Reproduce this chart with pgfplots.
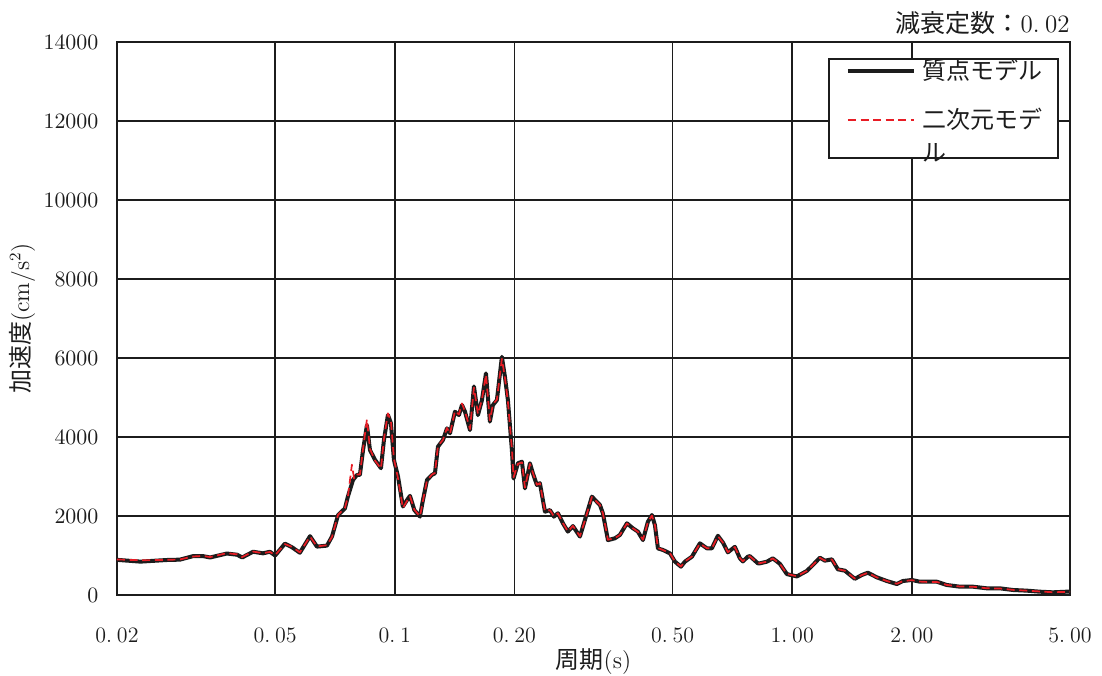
\documentclass[border=0pt]{standalone}
\usepackage{fontspec}
\usepackage{pgfplots}
\usepackage{pgfplotstable}
\pgfplotsset{compat=1.18}
\newfontfamily\jp{Noto Sans CJK JP}
\definecolor{redd}{RGB}{232,28,36}
\definecolor{blk}{RGB}{28,28,28}

\pgfplotstableread{
T a
0.0200 890
0.0229 845
0.0267 886
0.0288 895
0.0311 985
0.0329 985
0.0343 950
0.0378 1050
0.0401 1020
0.0413 950
0.0440 1095
0.0466 1055
0.0485 1095
0.0500 1000
0.0529 1300
0.0551 1210
0.0577 1070
0.0612 1490
0.0637 1225
0.0675 1250
0.0695 1480
0.0720 2025
0.0749 2190
0.0762 2490
0.0785 2910
0.0803 3040
0.0817 3040
0.0832 3670
0.0851 4300
0.0866 3670
0.0892 3420
0.0923 3210
0.0939 3920
0.0961 4560
0.0978 4350
0.0995 3420
0.1019 2995
0.1048 2240
0.1073 2400
0.1092 2510
0.1120 2150
0.1157 1985
0.1177 2400
0.1205 2910
0.1240 3040
0.1262 3080
0.1284 3755
0.1322 3925
0.1353 4220
0.1377 4095
0.1417 4640
0.1450 4555
0.1476 4810
0.1502 4640
0.1546 4175
0.1582 5280
0.1619 4555
0.1657 4935
0.1696 5610
0.1735 4390
0.1766 4810
0.1807 4935
0.1860 6030
0.1893 5525
0.1926 4935
0.1971 3670
0.1990 2950
0.2041 3335
0.2089 3375
0.2126 2700
0.2188 3335
0.2226 3080
0.2278 2785
0.2318 2830
0.2387 2110
0.2457 2150
0.2514 1985
0.2573 2070
0.2649 1815
0.2726 1605
0.2807 1745
0.2923 1480
0.3009 1900
0.3133 2490
0.3282 2280
0.3339 2070
0.3438 1390
0.3580 1435
0.3685 1520
0.3838 1815
0.3973 1690
0.4090 1605
0.4211 1390
0.4334 1855
0.4436 2025
0.4514 1770
0.4593 1180
0.4728 1140
0.4924 1055
0.5069 845
0.5248 717
0.5371 845
0.5593 970
0.5857 1308
0.6100 1182
0.6279 1182
0.6501 1500
0.6692 1330
0.6888 1080
0.7173 1220
0.7384 930
0.7513 850
0.7734 970
0.7824 985
0.8195 802
0.8291 802
0.8634 843
0.8939 928
0.9309 790
0.9694 530
1.0272 470
1.0886 610
1.1271 759
1.1738 945
1.2082 869
1.2583 903
1.3027 650
1.3566 616
1.4375 410
1.4970 506
1.5500 565
1.6329 447
1.7301 354
1.8331 278
1.8980 354
2.0000 380
2.0948 337
2.1942 337
2.3118 337
2.4496 253
2.6418 211
2.8474 211
3.0884 169
3.3302 169
3.5912 127
3.8952 110
4.1978 84
4.5270 68
4.9086 84
5.0000 84
}\mass

\pgfplotstableread{
T a
0.0200 900
0.0229 880
0.0267 890
0.0288 900
0.0311 975
0.0329 990
0.0343 960
0.0378 1060
0.0401 1030
0.0413 960
0.0440 1100
0.0466 1060
0.0485 1090
0.0500 1010
0.0529 1290
0.0551 1220
0.0577 1080
0.0612 1480
0.0637 1230
0.0675 1260
0.0695 1470
0.0720 2030
0.0749 2200
0.0762 2480
0.0780 3300
0.0790 2950
0.0803 3050
0.0817 3050
0.0832 3700
0.0851 4450
0.0866 3700
0.0892 3400
0.0923 3200
0.0939 3950
0.0961 4600
0.0978 4400
0.0995 3450
0.1019 2950
0.1048 2200
0.1073 2380
0.1092 2500
0.1120 2160
0.1157 1990
0.1177 2380
0.1205 2900
0.1240 3050
0.1262 3090
0.1284 3770
0.1322 3930
0.1353 4230
0.1377 4080
0.1417 4660
0.1450 4570
0.1476 4850
0.1502 4650
0.1546 4200
0.1582 5250
0.1619 4580
0.1657 4950
0.1696 5580
0.1735 4420
0.1766 4830
0.1807 4950
0.1860 5980
0.1893 5500
0.1926 4900
0.1971 3700
0.1990 2980
0.2041 3320
0.2089 3360
0.2126 2720
0.2188 3320
0.2226 3090
0.2278 2790
0.2318 2830
0.2387 2120
0.2457 2150
0.2514 1990
0.2573 2070
0.2649 1820
0.2726 1610
0.2807 1750
0.2923 1490
0.3009 1890
0.3133 2480
0.3282 2280
0.3339 2070
0.3438 1400
0.3580 1440
0.3685 1520
0.3838 1810
0.3973 1690
0.4090 1600
0.4211 1400
0.4334 1850
0.4436 2010
0.4514 1770
0.4593 1190
0.4728 1140
0.4924 1060
0.5069 850
0.5248 720
0.5371 850
0.5593 975
0.5857 1300
0.6100 1185
0.6279 1180
0.6501 1490
0.6692 1330
0.6888 1085
0.7173 1215
0.7384 935
0.7513 855
0.7734 970
0.7824 980
0.8195 805
0.8291 805
0.8634 845
0.8939 925
0.9309 790
0.9694 535
1.0272 475
1.0886 610
1.1271 760
1.1738 940
1.2082 870
1.2583 900
1.3027 655
1.3566 615
1.4375 415
1.4970 505
1.5500 560
1.6329 445
1.7301 355
1.8331 285
1.8980 350
2.0000 375
2.0948 340
2.1942 330
2.3118 330
2.4496 255
2.6418 215
2.8474 210
3.0884 170
3.3302 165
3.5912 130
3.8952 110
4.1978 90
4.5270 70
4.9086 80
5.0000 85
}\twod

\begin{document}
\begin{tikzpicture}
\begin{axis}[
  at={(0,0)}, anchor=south west,
  scale only axis, width=476.5pt, height=276.5pt,
  xmode=log, xmin=0.02, xmax=5, ymin=0, ymax=14000,
  xtick={0.02,0.05,0.1,0.2,0.5,1,2,5},
  xticklabels={0.\hspace{0.22em}02,0.\hspace{0.22em}05,0.\hspace{0.22em}1,0.\hspace{0.22em}20,0.\hspace{0.22em}50,1.\hspace{0.22em}00,2.\hspace{0.22em}00,5.\hspace{0.22em}00},
  minor xtick={},
  ytick={0,2000,4000,6000,8000,10000,12000,14000},
  scaled y ticks=false,
  yticklabel style={/pgf/number format/1000 sep={}, xshift=-5.8pt},
  xticklabel style={yshift=-12.7pt},
  ticklabel style={font=\fontsize{11}{13}\selectfont, text=blk},
  major tick length=0pt, minor tick length=0pt,
  grid=major,
  major grid style={line width=0.9pt, draw=blk},
  axis line style={line width=0.9pt, draw=blk},
  clip mode=individual,
  xlabel={{\jp 周期}(s)},
  xlabel style={at={(axis description cs:0.5,-0.1212)}, anchor=center, font=\fontsize{12}{14}\selectfont, text=blk},
  ylabel={{\jp 加速度}(cm/s$^2$)},
  ylabel style={at={(axis description cs:-0.0997,0.5)}, anchor=center, rotate=0, font=\fontsize{12}{14}\selectfont, text=blk},
  legend style={at={(axis description cs:0.7461,0.9711)}, anchor=north west,
    draw=blk, line width=0.9pt, fill=white, inner xsep=0pt, inner ysep=0pt,
    row sep=-0.5pt, column sep=3.5pt, nodes={inner sep=0pt, text=blk},
    font=\jp\fontsize{12}{16.5}\selectfont, cells={anchor=west}},
  legend image code/.code={\path[draw=none] (0pt,0pt) -- (9.5pt,0pt); \draw[#1] (9.5pt,0pt) -- (42.5pt,0pt);},
]
\addplot[blk, line width=2pt, line join=round] table[x=T, y=a] {\mass};
\addlegendentry[text height=10.5pt, text depth=1.5pt]{\makebox[67.5pt][l]{質点モデル}}
\addplot[redd, line width=0.85pt, line join=round, dash pattern=on 4pt off 2.3pt] table[x=T, y=a] {\twod};
\addlegendentry[text height=23.5pt, text depth=14.5pt]{\makebox[67.5pt][l]{\begin{tabular}[t]{@{}l@{}}二次元モデ\\ル\end{tabular}}}
\end{axis}
\node[anchor=base east, inner sep=0pt, text=blk, font=\fontsize{12.5}{14}\selectfont] at (476.5pt,281pt) {{\jp 減衰定数：}0.\hspace{0.22em}02};
\pgfresetboundingbox
\path (-58.5pt,-40pt) rectangle (492.5pt,297.5pt);
\end{tikzpicture}
\end{document}
